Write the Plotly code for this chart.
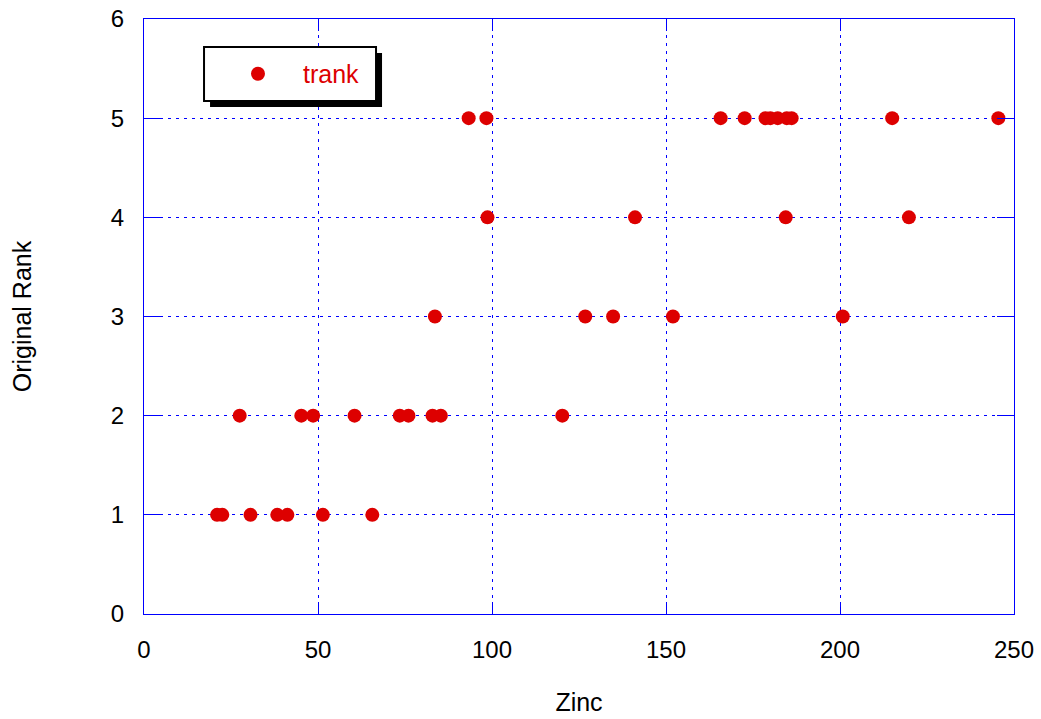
import plotly.graph_objects as go

# Data
zinc_rank1 = [21.0, 22.5, 30.6, 38.3, 41.2, 51.4, 65.6]
zinc_rank2 = [27.5, 45.2, 48.6, 60.5, 73.5, 76.0, 82.9, 85.3, 120.2]
zinc_rank3 = [83.6, 126.8, 134.8, 152.0, 200.8]
zinc_rank4 = [98.7, 141.1, 184.4, 219.8]
zinc_rank5 = [93.3, 98.4, 165.7, 172.6, 178.6, 180.0, 182.1, 184.7, 186.1, 215.0, 245.5]

zinc = zinc_rank1 + zinc_rank2 + zinc_rank3 + zinc_rank4 + zinc_rank5
trank = ([1] * len(zinc_rank1) + [2] * len(zinc_rank2) + [3] * len(zinc_rank3)
         + [4] * len(zinc_rank4) + [5] * len(zinc_rank5))

x_ticks = [0, 50, 100, 150, 200, 250]
y_ticks = [0, 1, 2, 3, 4, 5, 6]

RED = "#DD0000"
BLUE = "#0000FF"
FONT = "Liberation Sans, Arial, sans-serif"

fig = go.Figure()
fig.add_trace(go.Scatter(
    x=zinc, y=trank, mode="markers", name="trank",
    marker=dict(color=RED, size=14, line=dict(width=0)),
))

axis_common = dict(
    showline=True, linecolor=BLUE, linewidth=1, mirror="ticks",
    showgrid=True, gridcolor=BLUE, gridwidth=1, griddash="3px,5px",
    ticks="inside", tickcolor=BLUE, tickwidth=1,
    zeroline=False, automargin=False,
    tickfont=dict(family=FONT, size=24, color="black"),
    ticklabelstandoff=14, ticklabeloverflow="allow",
)

fig.update_layout(
    width=1041, height=719,
    margin=dict(l=144, r=27, t=19, b=105),
    paper_bgcolor="white", plot_bgcolor="white",
    font=dict(family=FONT, color="black"),
    xaxis=dict(range=[0, 250], tickvals=x_ticks, ticklen=12,
               title=dict(text="Zinc", font=dict(family=FONT, size=25), standoff=31),
               **axis_common),
    yaxis=dict(range=[0, 6], tickvals=y_ticks, ticklen=17,
               title=dict(text="Original Rank", font=dict(family=FONT, size=25), standoff=72),
               **axis_common),
    showlegend=True,
    legend=dict(
        x=0.0793, y=0.9076, xanchor="left", yanchor="middle",
        bgcolor="rgba(0,0,0,0)", borderwidth=0,
        font=dict(family=FONT, size=25, color=RED),
        itemwidth=80,
    ),
    shapes=[
        dict(type="rect", xref="paper", yref="paper", layer="above",
             x0=0.0759, x1=0.2736, y0=0.852, y1=0.943,
             fillcolor="black", line=dict(width=0)),
        dict(type="rect", xref="paper", yref="paper", layer="above",
             x0=0.069, x1=0.2667, y0=0.862, y1=0.953,
             fillcolor="white", line=dict(color="black", width=2)),
    ],
)

fig.write_html(
    "out.html",
    config={"displayModeBar": False},
    post_script="document.body.style.margin='0';document.body.style.overflow='hidden';",
)
